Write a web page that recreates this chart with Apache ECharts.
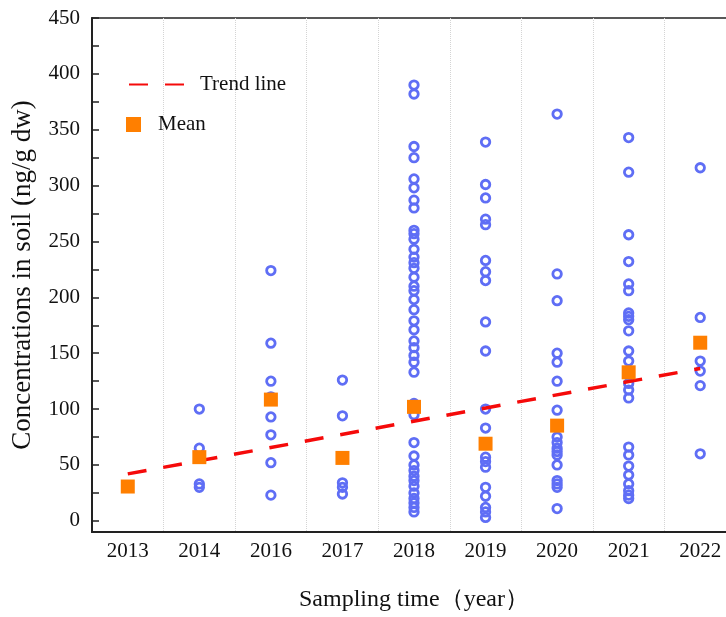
<!DOCTYPE html>
<html>
<head>
<meta charset="utf-8">
<script src="https://cdn.jsdelivr.net/npm/echarts@6/dist/echarts.min.js"></script>
<style>
  html, body { margin: 0; padding: 0; background: #fff; overflow: hidden; }
  /* wider than the window on purpose: the right frame edge falls outside, as in the source */
  #chart { width: 736px; height: 617px; }
</style>
</head>
<body>
<div id="chart"></div>
<script>
// ── Data ───────────────────────────────────────────────────────────────
const years = ['2013', '2014', '2016', '2017', '2018', '2019', '2020', '2021', '2022'];

// individual samples per year (ng/g dw)
const s2013 = [30];
const s2014 = [100, 65, 33, 30];
const s2016 = [224, 159, 125, 111, 93, 77, 52, 23];
const s2017 = [126, 94, 34, 30, 24];
const s2018 = [390, 382, 335, 325, 306, 298, 287, 280, 260, 257, 252, 243, 236, 231, 226, 218,
               210, 206, 198, 189, 179, 171, 161, 155, 148, 142, 133, 105, 95, 70, 58, 50, 45,
               40, 36, 31, 25, 20, 16, 12, 8];
const s2019 = [339, 301, 289, 270, 265, 233, 223, 215, 178, 152, 100, 83, 57, 53, 48, 30, 22, 12, 8, 3];
const s2020 = [364, 221, 197, 150, 142, 125, 99, 75, 70, 65, 62, 59, 50, 36, 33, 30, 11];
const s2021 = [343, 312, 256, 232, 212, 206, 186, 183, 180, 170, 152, 143, 123, 117, 110,
               66, 59, 49, 41, 33, 27, 23, 20];
const s2022 = [316, 182, 143, 134, 121, 60];
const samplesByYear = [s2013, s2014, s2016, s2017, s2018, s2019, s2020, s2021, s2022];

const means = [30.7, 57, 108.5, 56.3, 102, 69, 85.2, 132.9, 159.4];

// trend line end points
const trendYears = ['2013', '2022'];
const trendValues = [42, 136.4];

const yLabelValues = [0, 50, 100, 150, 200, 250, 300, 350, 400, 450];
const yTickValues = [0, 25, 50, 75, 100, 125, 150, 175, 200, 225, 250, 275, 300, 325, 350, 375, 400, 425, 450];

// ── Styling ────────────────────────────────────────────────────────────
const serif = '"Liberation Serif", "Times New Roman", serif';
const ringColor = '#5F6EF5';
const meanColor = '#FF7F00';
const trendColor = '#F50A0A';
const ink = '#111';

const scatterData = [];
samplesByYear.forEach((vals, i) => vals.forEach(v => scatterData.push([years[i], v])));

const chart = echarts.init(document.getElementById('chart'), null, { renderer: 'canvas' });
chart.setOption({
  animation: false,
  backgroundColor: '#fff',
  grid: {
    left: 92, right: 0, top: 18, bottom: 79,
    show: true, borderColor: '#222', borderWidth: 1.5, backgroundColor: 'transparent'
  },
  legend: [
    {
      data: ['Trend line'],
      left: 128, top: 74, padding: 0,
      itemWidth: 66, itemHeight: 14,
      itemStyle: { opacity: 0 },
      textStyle: { fontFamily: serif, fontSize: 21, color: ink }
    },
    {
      data: [{ name: 'Mean', icon: 'rect' }],
      left: 126, top: 114, padding: 0,
      itemWidth: 15, itemHeight: 15,
      textStyle: { fontFamily: serif, fontSize: 21, color: ink, padding: [0, 0, 0, 12] }
    }
  ],
  xAxis: {
    type: 'category',
    data: years,
    boundaryGap: true,
    name: 'Sampling time（year）',
    nameLocation: 'middle',
    nameGap: 56,
    nameTextStyle: { fontFamily: serif, fontSize: 24, color: ink },
    axisLine: { onZero: false, lineStyle: { color: '#222', width: 2 } },
    axisTick: { inside: true, alignWithLabel: true, length: 7, lineStyle: { color: '#222', width: 1.5 } },
    axisLabel: { fontFamily: serif, fontSize: 21, color: ink, margin: 9 },
    splitLine: { show: true, lineStyle: { color: '#d4d4d4', type: 'dotted', width: 1 } }
  },
  yAxis: {
    type: 'value',
    min: -10, max: 450,
    name: 'Concentrations in soil (ng/g dw)',
    nameLocation: 'middle',
    nameGap: 56,
    nameTextStyle: { fontFamily: serif, fontSize: 27, color: ink },
    axisLine: { show: true, lineStyle: { color: '#222', width: 2 } },
    axisTick: { show: true, inside: true, length: 7, customValues: yTickValues, lineStyle: { color: '#222', width: 1.5 } },
    axisLabel: { fontFamily: serif, fontSize: 21, color: ink, margin: 12, customValues: yLabelValues },
    splitLine: { show: false }
  },
  series: [
    {
      name: 'Samples',
      type: 'scatter',
      data: scatterData,
      symbol: 'circle',
      symbolSize: 8.5,
      itemStyle: { color: 'rgba(255,255,255,0)', borderColor: ringColor, borderWidth: 2.8, opacity: 1 },
      z: 2
    },
    {
      name: 'Trend line',
      type: 'line',
      data: trendYears.map((y, i) => [y, trendValues[i]]),
      symbol: 'none',
      lineStyle: { color: trendColor, width: 3.5, type: [19, 17] },
      itemStyle: { color: trendColor },
      z: 3
    },
    {
      name: 'Mean',
      type: 'scatter',
      data: years.map((y, i) => [y, means[i]]),
      symbol: 'rect',
      symbolSize: 14,
      itemStyle: { color: meanColor, opacity: 1 },
      z: 4
    }
  ]
});
</script>
</body>
</html>
